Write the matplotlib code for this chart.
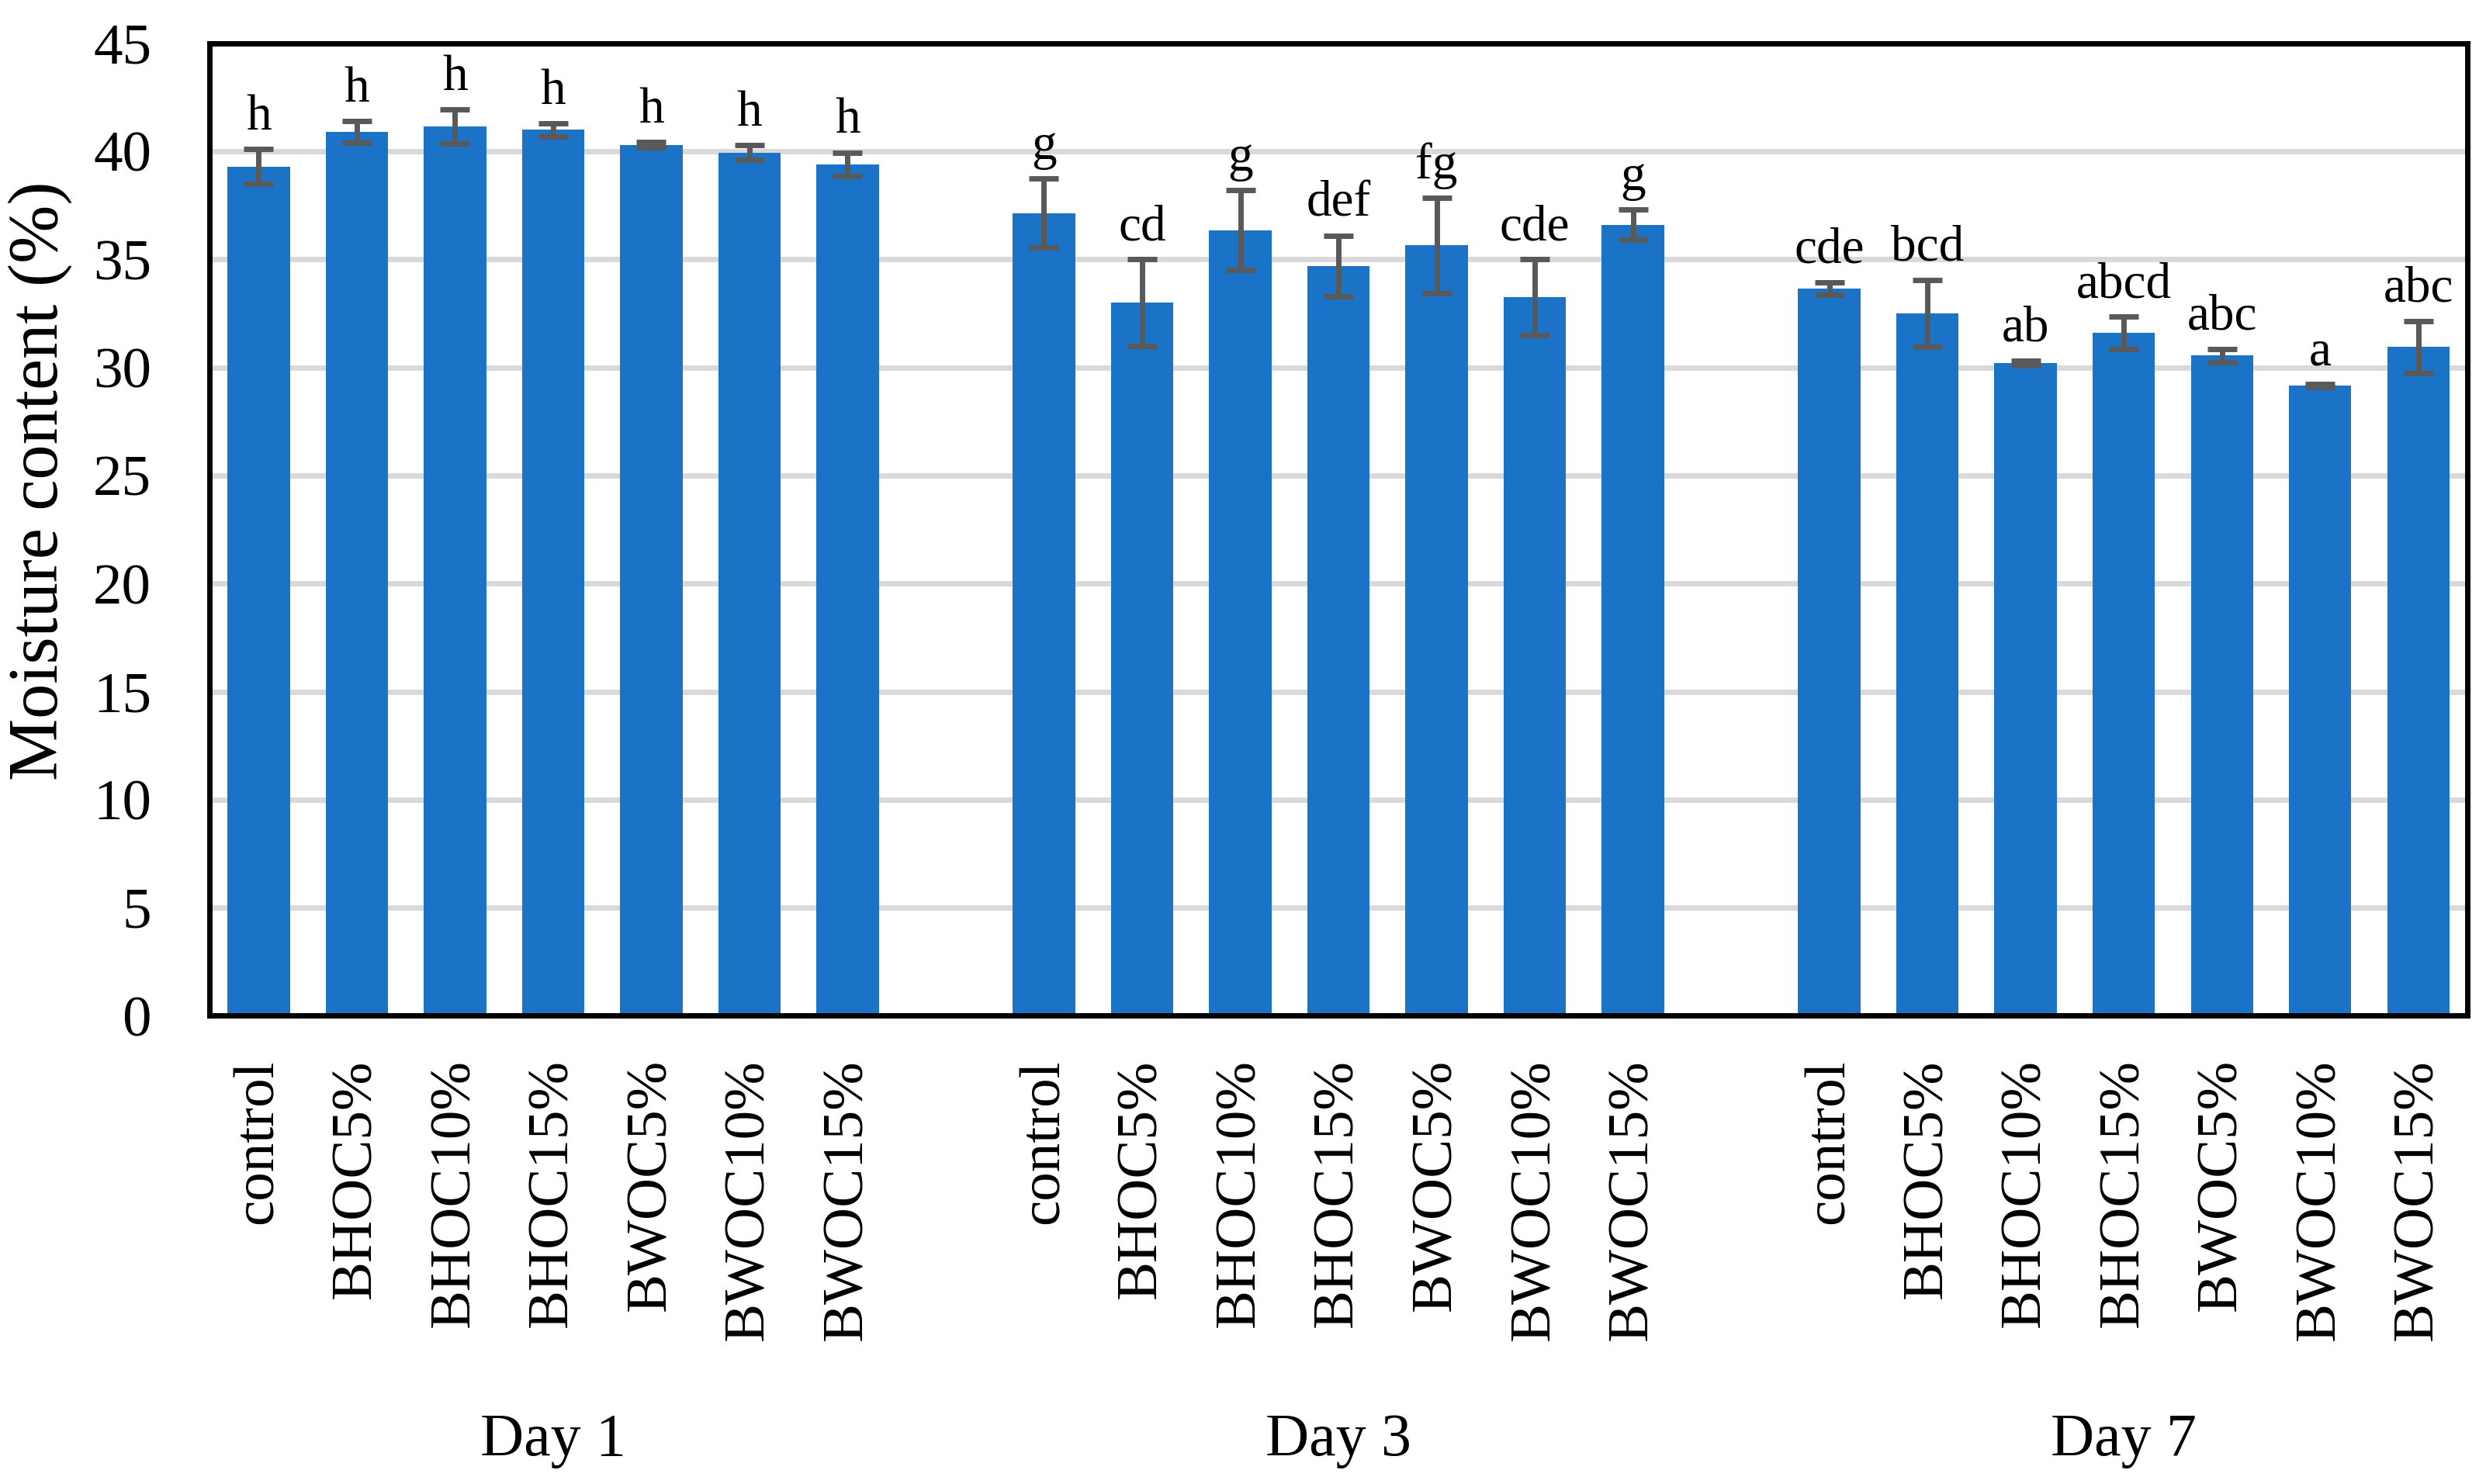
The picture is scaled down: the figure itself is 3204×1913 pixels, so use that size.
import matplotlib.pyplot as plt
import numpy as np

plt.rcParams['font.family'] = ['Liberation Serif', 'DejaVu Serif']

days = ['Day 1', 'Day 3', 'Day 7']
treatments = ['control', 'BHOC5%', 'BHOC10%', 'BHOC15%', 'BWOC5%', 'BWOC10%', 'BWOC15%']

# moisture content (%) per day, same order as treatments
day1 = [39.3, 40.9, 41.15, 41.0, 40.3, 39.95, 39.4]
day3 = [37.15, 33.0, 36.35, 34.7, 35.65, 33.25, 36.6]
day7 = [33.65, 32.5, 30.2, 31.6, 30.55, 29.15, 30.95]

err1 = [0.8, 0.5, 0.8, 0.3, 0.12, 0.35, 0.55]
err3 = [1.6, 2.0, 1.85, 1.4, 2.2, 1.75, 0.7]
err7 = [0.3, 1.55, 0.12, 0.75, 0.3, 0.07, 1.2]

letters1 = ['h', 'h', 'h', 'h', 'h', 'h', 'h']
letters3 = ['g', 'cd', 'g', 'def', 'fg', 'cde', 'g']
letters7 = ['cde', 'bcd', 'ab', 'abcd', 'abc', 'a', 'abc']

values = [day1, day3, day7]
errors = [err1, err3, err7]
letters = [letters1, letters3, letters7]

fig = plt.figure(figsize=(32.04, 19.13), dpi=100)
ax = fig.add_axes([0.0843, 0.3155, 0.9082, 0.6553])

n = len(treatments)
width = 0.635
blue = '#1a73c7'
grey = '#595959'

ticks = []
ticklabels = []
for g in range(len(days)):
    x = np.arange(n) + g * (n + 1)
    ax.bar(x, values[g], width, color=blue, zorder=2)
    ax.errorbar(x, values[g], yerr=errors[g], fmt='none', ecolor=grey,
                elinewidth=5, capsize=14, capthick=5, zorder=3)
    for xi, v, e, lab in zip(x, values[g], errors[g], letters[g]):
        ax.text(xi, v + e + 0.9, lab, ha='center', va='baseline', fontsize=47)
    ticks.extend(x)
    ticklabels.extend(treatments)
    # group label under the rotated tick labels
    ax.text(x.mean(), -0.437, days[g], transform=ax.get_xaxis_transform(),
            ha='center', va='center', fontsize=56)

ax.set_xlim(-0.5, 3 * n + 1.5)
ax.set_ylim(0, 45)
ax.set_yticks(np.arange(0, 50, 5))
ax.set_xticks(ticks)
ax.set_xticklabels(ticklabels, rotation=90, fontsize=54)
ax.tick_params(axis='x', length=0, pad=40)
ax.tick_params(axis='y', length=0, pad=54, labelsize=54)

ax.yaxis.grid(True, color='#d9d9d9', linewidth=5, zorder=0)
ax.set_axisbelow(True)
for s in ax.spines.values():
    s.set_linewidth(5)
    s.set_color('black')

ax.set_ylabel('Moisture content (%)', fontsize=65)
ax.yaxis.set_label_coords(-0.061, 0.55)

fig.savefig('out.png', dpi=100)
